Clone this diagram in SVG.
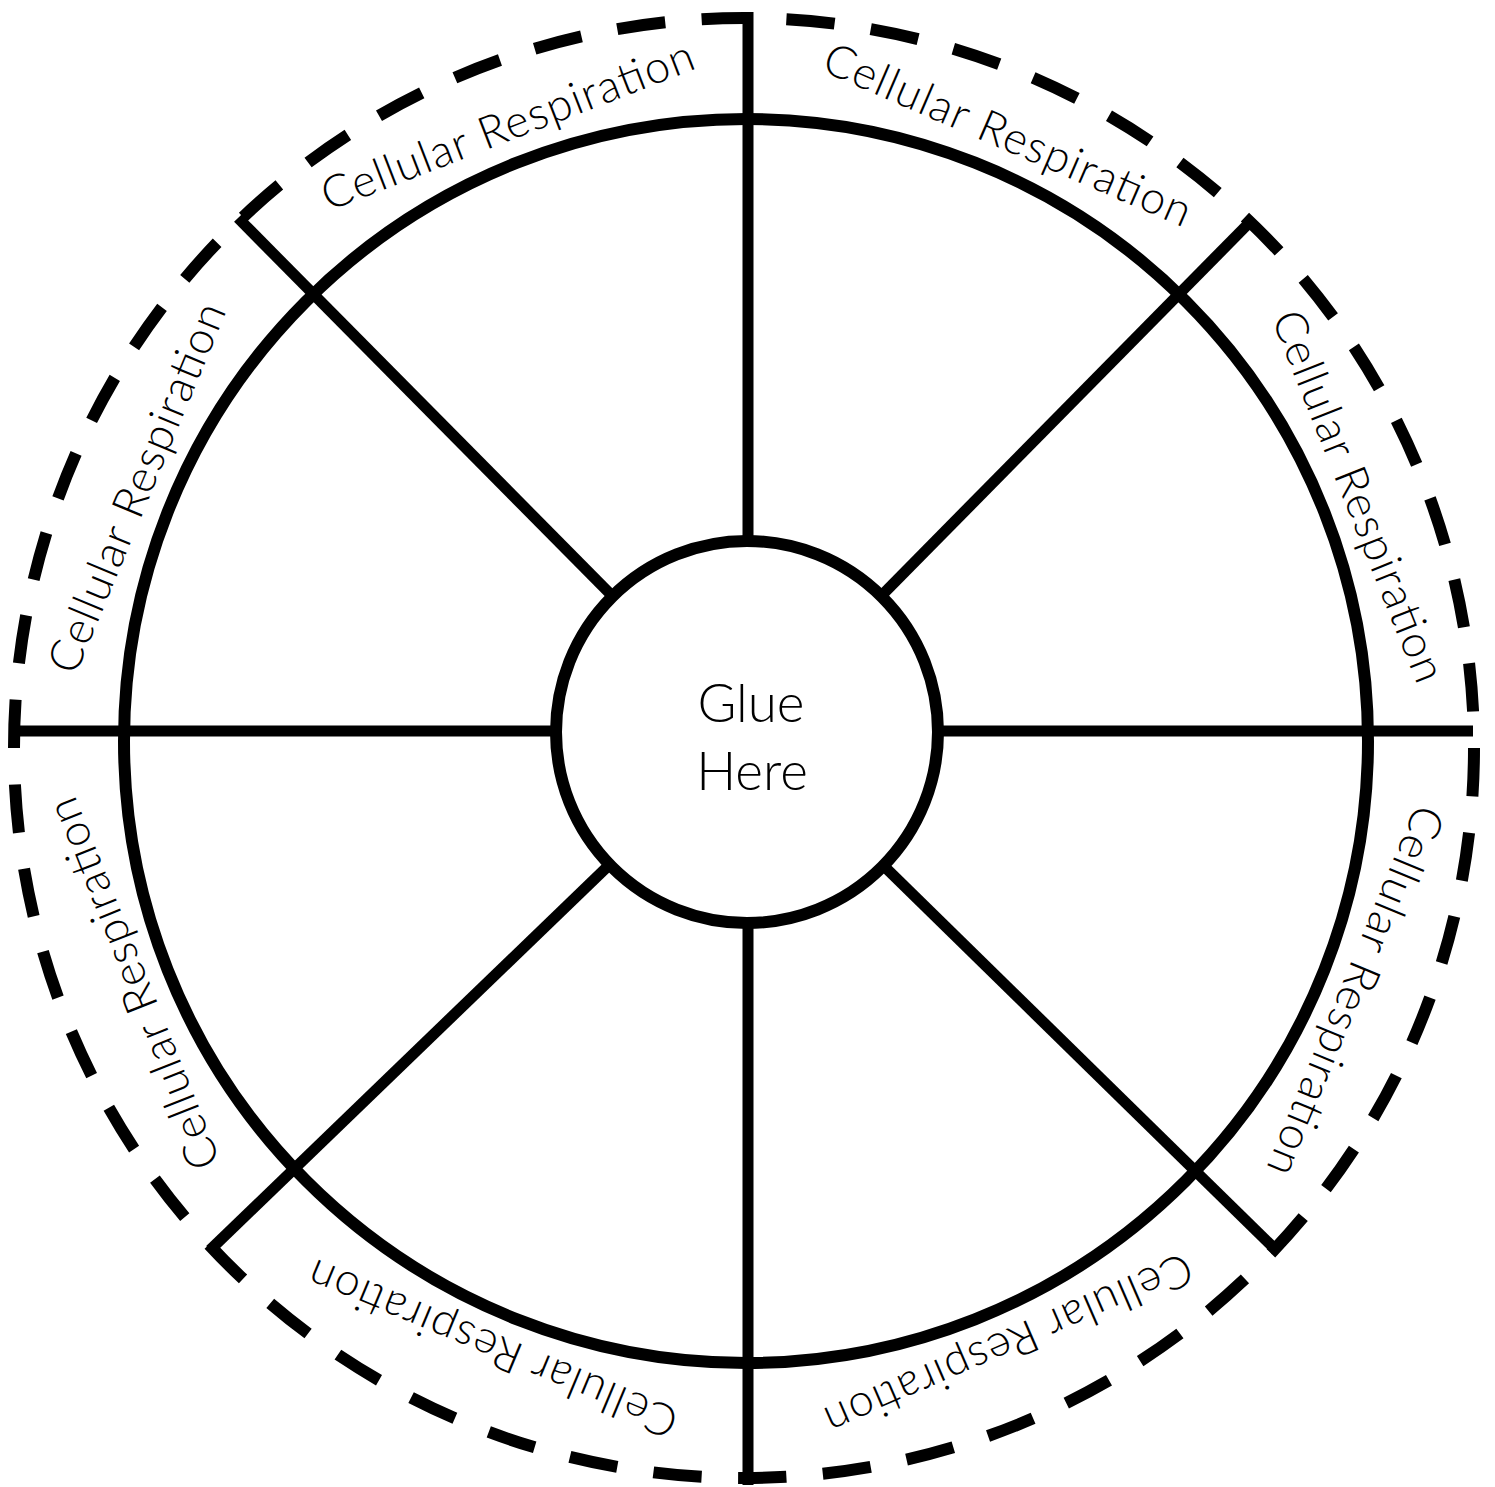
<svg xmlns="http://www.w3.org/2000/svg" width="1495" height="1487" viewBox="0 0 1495 1487">
<style>
.spoke{stroke:#000;stroke-width:11;stroke-linecap:butt;fill:none}
.ring{stroke:#000;stroke-width:12;fill:none}
.dash{stroke:#000;stroke-width:12;fill:none;stroke-dasharray:57 43}
.lbl{font-family:'Lato','Open Sans','Liberation Sans',sans-serif;font-weight:300;font-size:45px;fill:#000}
.hubtxt{font-family:'Lato','Open Sans','Liberation Sans',sans-serif;font-weight:300;font-size:53px;fill:#000}
</style>
<rect width="1495" height="1487" fill="#fff"/>
<g id="connectors">
<line class="spoke" x1="748" y1="732" x2="748" y2="12"/>
<line class="spoke" x1="748" y1="732" x2="748" y2="1485"/>
<line class="spoke" x1="747" y1="731" x2="14" y2="731"/>
<line class="spoke" x1="747" y1="731" x2="1473" y2="731"/>
<line class="spoke" x1="747" y1="732" x2="238" y2="218"/>
<line class="spoke" x1="747" y1="732" x2="1250" y2="222"/>
<line class="spoke" x1="747" y1="732" x2="210" y2="1250"/>
<line class="spoke" x1="747" y1="732" x2="1276" y2="1250"/>
</g>
<g id="dashed-ring">
<circle class="dash" cx="744" cy="748" r="730" pathLength="5400"/>
</g>
<g id="outer-ring">
<circle class="ring" cx="746" cy="741" r="622"/>
</g>
<g id="labels">
<text class="lbl" x="746" y="96" text-anchor="middle" textLength="396" transform="rotate(-21.2 746 740)">Cellular Respiration</text>
<text class="lbl" x="746" y="96" text-anchor="middle" textLength="396" transform="rotate(23.4 746 740)">Cellular Respiration</text>
<text class="lbl" x="746" y="96" text-anchor="middle" textLength="396" transform="rotate(68.3 746 740)">Cellular Respiration</text>
<text class="lbl" x="746" y="96" text-anchor="middle" textLength="396" transform="rotate(112.4 746 740)">Cellular Respiration</text>
<text class="lbl" x="746" y="96" text-anchor="middle" textLength="396" transform="rotate(156.5 746 740)">Cellular Respiration</text>
<text class="lbl" x="746" y="96" text-anchor="middle" textLength="396" transform="rotate(202.6 746 740)">Cellular Respiration</text>
<text class="lbl" x="746" y="96" text-anchor="middle" textLength="396" transform="rotate(248.3 746 740)">Cellular Respiration</text>
<text class="lbl" x="746" y="96" text-anchor="middle" textLength="396" transform="rotate(292.5 746 740)">Cellular Respiration</text>
</g>
<g id="hub">
<circle cx="747" cy="732" r="191" fill="#fff" stroke="#000" stroke-width="12"/>
<text class="hubtxt" x="751" y="722" text-anchor="middle">Glue</text>
<text class="hubtxt" x="752" y="790" text-anchor="middle">Here</text>
</g>
</svg>
